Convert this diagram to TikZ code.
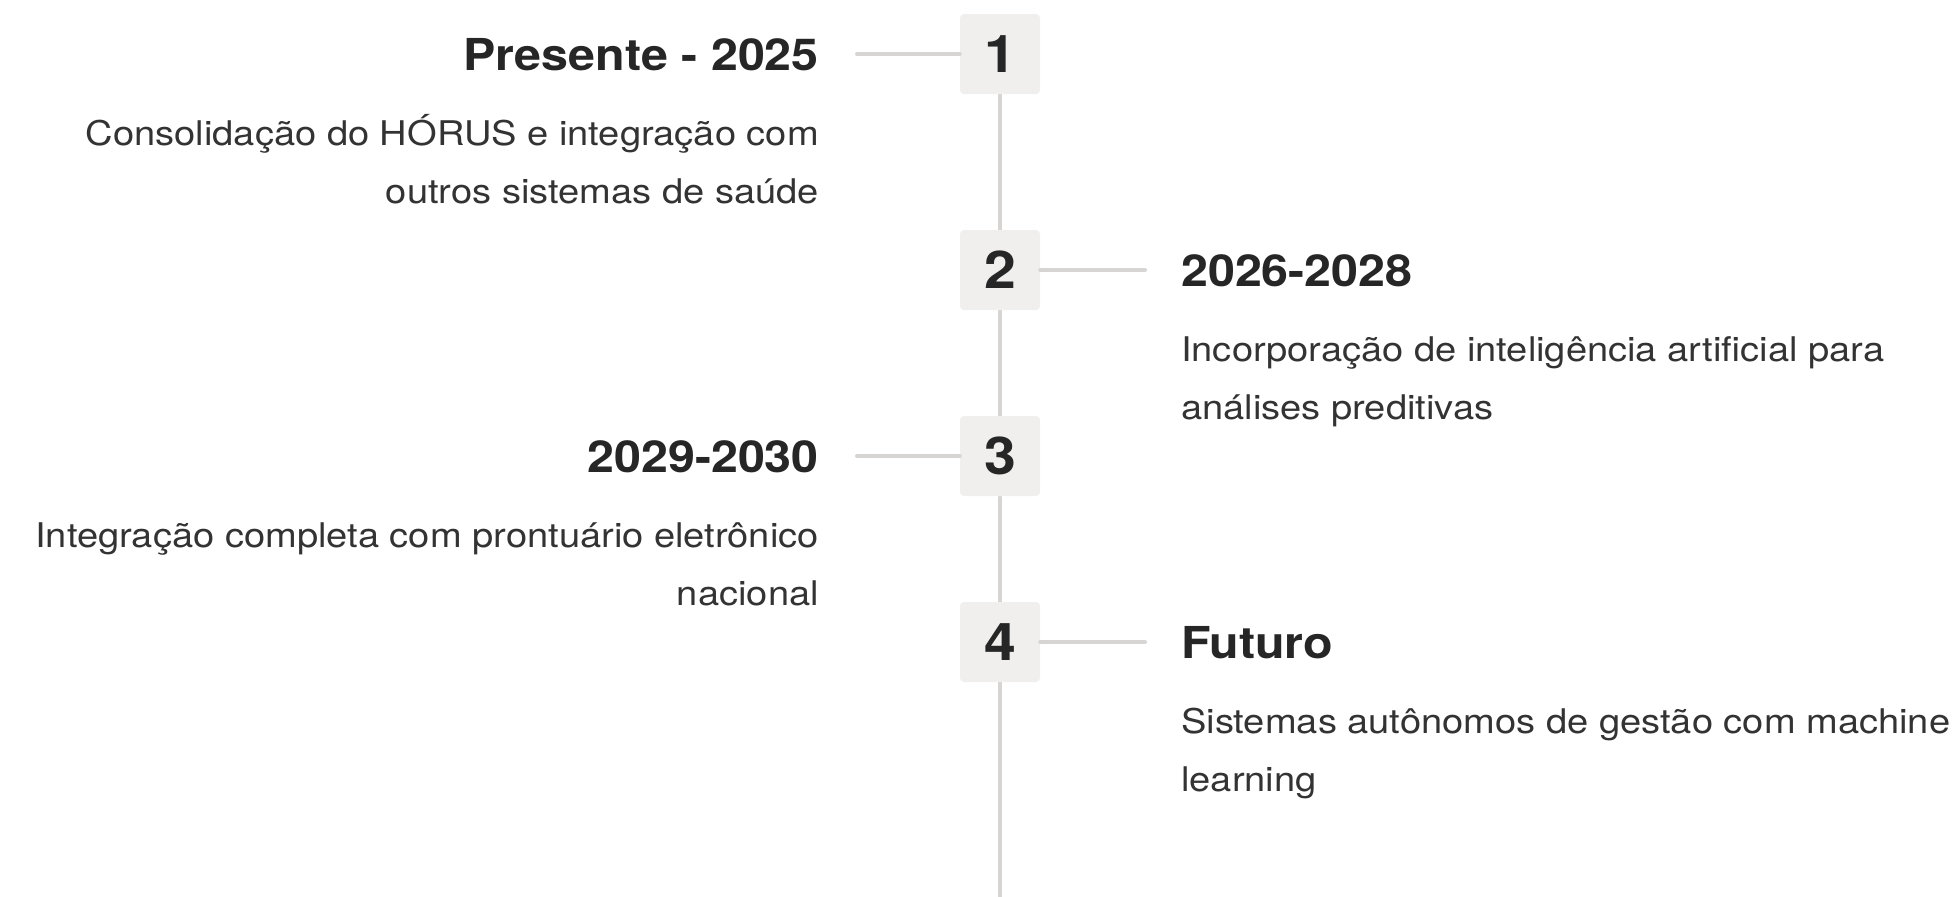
\documentclass[tikz,border=0pt]{standalone}
\usepackage{fontspec}
\setmainfont{TeX Gyre Heros}
\newfontfamily\bodyfont[FakeStretch=1.12]{TeX Gyre Heros}
\newfontfamily\headfont[FakeStretch=1.10]{TeX Gyre Heros}
\definecolor{ink}{HTML}{262626}
\definecolor{body}{HTML}{333333}
\definecolor{boxfill}{HTML}{F1EFEE}
\definecolor{rule}{HTML}{D7D4D4}
\tikzset{
  numbox/.style={draw=none, fill=boxfill, rounded corners=4pt, minimum width=80pt, minimum height=80pt, inner sep=0pt, text=ink, font=\headfont\fontsize{52}{52}\selectfont\bfseries},
  ttl/.style={inner sep=0pt, text=ink, font=\headfont\fontsize{44}{44}\selectfont\bfseries},
  dscL/.style={inner sep=0pt, text=body, align=right, font=\bodyfont\fontsize{34}{58}\selectfont},
  dscR/.style={inner sep=0pt, text=body, align=left, font=\bodyfont\fontsize{34}{58}\selectfont},
  conn/.style={draw=rule, line width=4pt, line cap=round},
  spine/.style={draw=rule, line width=4pt},
}
\begin{document}
\begin{tikzpicture}[x=1pt,y=-1pt]
\useasboundingbox (0,0) rectangle (1955,897);
\coordinate (top) at (1000,14);
\coordinate (bottom) at (1000,897);
\coordinate (l1) at (857,54);
\coordinate (r2) at (1145,270);
\coordinate (l3) at (857,456);
\coordinate (r4) at (1145,642);
\path[spine] (top) -- (bottom);
\node[numbox] (b1) at (1000,54) {1};
\node[numbox] (b2) at (1000,270) {2};
\node[numbox] (b3) at (1000,456) {3};
\node[numbox] (b4) at (1000,642) {4};
\draw[conn] (l1) -- (b1.west);
\draw[conn] (b2.east) -- (r2);
\draw[conn] (l3) -- (b3.west);
\draw[conn] (b4.east) -- (r4);
\node[ttl, anchor=base east] (t1) at (819,70) {Presente - 2025};
\node[dscL, anchor=base east] (d1) at (819,203) {Consolidação do HÓRUS e integração com\\outros sistemas de saúde};
\node[ttl, anchor=base west] (t2) at (1181,286) {2026-2028};
\node[dscR, anchor=base west] (d2) at (1181,419) {Incorporação de inteligência artificial para\\análises preditivas};
\node[ttl, anchor=base east] (t3) at (819,472) {2029-2030};
\node[dscL, anchor=base east] (d3) at (819,605) {Integração completa com prontuário eletrônico\\nacional};
\node[ttl, anchor=base west] (t4) at (1181,658) {Futuro};
\node[dscR, anchor=base west] (d4) at (1181,791) {Sistemas autônomos de gestão com machine\\learning};
\end{tikzpicture}
\end{document}
